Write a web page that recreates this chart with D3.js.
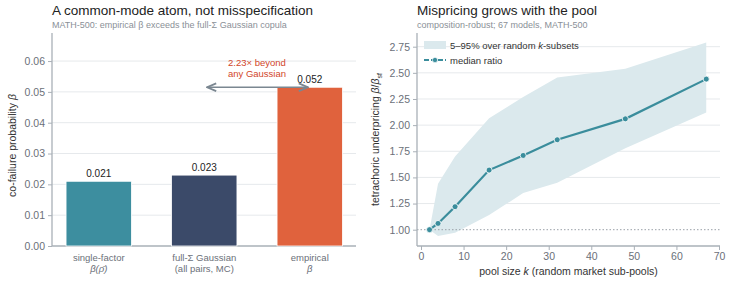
<!DOCTYPE html>
<html><head><meta charset="utf-8">
<script src="https://cdn.jsdelivr.net/npm/d3@7"></script>
<style>
body{margin:0;background:#fff;}
svg{display:block;font-family:"Liberation Sans",Arial,sans-serif;}
</style></head>
<body>
<svg id="c" width="730" height="285"></svg>
<script>
// ---- data ----
const barCats = ["single", "full", "emp"];
const barLabels = [["single-factor","β(ρ̄)"],["full-Σ Gaussian","(all pairs, MC)"],["empirical","β"]];
const barValues = [0.021, 0.023, 0.0515];
const barValueLabels = ["0.021","0.023","0.052"];
const barColors = ["#3d8e9f","#3b4a69","#e0623d"];
const leftTicks = [0,0.01,0.02,0.03,0.04,0.05,0.06];

const poolK = [2,4,8,16,24,32,48,67];
const medianRatio = [1.00,1.06,1.22,1.57,1.71,1.86,2.06,2.44];
const bandLow = [1.00,0.94,0.97,1.14,1.35,1.45,1.78,2.12];
const bandHigh = [1.00,1.44,1.70,2.065,2.27,2.455,2.54,2.79];
const rightYTicks = [1.00,1.25,1.50,1.75,2.00,2.25,2.50,2.75];
const rightXTicks = [0,10,20,30,40,50,60,70];

const svg = d3.select("#c");
const gridC = "#e6e9ec", axisC = "#a9b0b7", tickTxt = "#6b7079";

// ---------- LEFT PANEL ----------
const L = {x0:52, x1:356, y0:33, y1:246};
const yL = d3.scaleLinear().domain([0,0.0691]).range([L.y1,L.y0]);
const xL = d3.scaleBand().domain(barCats).range([46,362.5]).paddingInner(0.38).paddingOuter(0.19);
const gL = svg.append("g");
gL.selectAll("line.grid").data(leftTicks.slice(1)).join("line")
  .attr("x1",L.x0).attr("x2",L.x1).attr("y1",d=>yL(d)).attr("y2",d=>yL(d))
  .attr("stroke",gridC).attr("stroke-width",1);
const axYL = gL.append("g").attr("transform",`translate(${L.x0},0)`)
  .call(d3.axisLeft(yL).tickValues(leftTicks).tickFormat(d3.format(".2f")).tickSize(4).tickPadding(3));
axYL.select(".domain").attr("d",`M0,${L.y0}V${L.y1}`);
const axXL = gL.append("g").attr("transform",`translate(0,${L.y1})`)
  .call(d3.axisBottom(xL).tickSize(0).tickFormat(""));
axXL.select(".domain").attr("d",`M${L.x0},0H${L.x1}`);
[axYL,axXL].forEach(a=>{a.select(".domain").attr("stroke",axisC).attr("stroke-width",1.3);
  a.selectAll(".tick line").attr("stroke",axisC);
  a.selectAll("text").attr("fill",tickTxt).attr("font-size",10.5);});
gL.selectAll("rect.bar").data(barValues).join("rect")
  .attr("x",(d,i)=>xL(barCats[i])).attr("width",xL.bandwidth())
  .attr("y",d=>yL(d)).attr("height",d=>yL(0)-yL(d))
  .attr("fill",(d,i)=>barColors[i]).attr("stroke","#fff").attr("stroke-width",0.8);
gL.selectAll("text.val").data(barValues).join("text")
  .attr("x",(d,i)=>xL(barCats[i])+xL.bandwidth()/2).attr("y",d=>yL(d)-4)
  .attr("text-anchor","middle").attr("font-size",10).attr("fill","#222")
  .text((d,i)=>barValueLabels[i]);
barLabels.forEach((lines,i)=>{
  const t = gL.append("text").attr("text-anchor","middle").attr("fill",tickTxt).attr("font-size",9.5)
    .attr("x",xL(barCats[i])+xL.bandwidth()/2);
  lines.forEach((s,j)=>t.append("tspan").attr("x",xL(barCats[i])+xL.bandwidth()/2)
    .attr("y",L.y1+15+j*10.8).attr("font-style",j===1 && i!==1?"italic":null).text(s));
});
// arrow
const defs = svg.append("defs");
defs.append("marker").attr("id","ah").attr("viewBox","0 0 10 10").attr("refX",9).attr("refY",5)
  .attr("markerWidth",7).attr("markerHeight",7).attr("orient","auto-start-reverse")
  .append("path").attr("d","M1,1.5L9,5L1,8.5").attr("fill","none").attr("stroke","#7b8791").attr("stroke-width",1.6);
const arrowY = yL(barValues[2]);
gL.append("line").attr("x1",xL("full")+xL.bandwidth()/2+3).attr("x2",xL("emp")+xL.bandwidth()/2-2)
  .attr("y1",arrowY).attr("y2",arrowY).attr("stroke","#7b8791").attr("stroke-width",1.6)
  .attr("marker-start","url(#ah)").attr("marker-end","url(#ah)");
const ann = gL.append("text").attr("text-anchor","middle").attr("fill","#d2462a").attr("font-size",9.5);
ann.append("tspan").attr("x",257).attr("y",66).text("2.23× beyond");
ann.append("tspan").attr("x",257).attr("y",77).text("any Gaussian");
gL.append("text").attr("transform",`translate(16,${(L.y0+L.y1)/2+6}) rotate(-90)`)
  .attr("text-anchor","middle").attr("font-size",10.5).attr("fill","#333")
  .html('co-failure probability <tspan font-style="italic">β</tspan>');
gL.append("text").attr("x",L.x0).attr("y",15).attr("font-size",13.5).attr("fill","#222")
  .text("A common-mode atom, not misspecification");
gL.append("text").attr("x",L.x0).attr("y",28).attr("font-size",9).attr("fill","#8a9097")
  .text("MATH-500: empirical β exceeds the full-Σ Gaussian copula");

// ---------- RIGHT PANEL ----------
const R = {x0:417, x1:720, y0:33, y1:246};
const xR = d3.scaleLinear().domain([0,70]).range([421,719]);
const yR = d3.scaleLinear().domain([1,2.75]).range([229.7,46.7]);
const gR = svg.append("g");
gR.selectAll("line.grid").data(rightYTicks.slice(1)).join("line")
  .attr("x1",R.x0).attr("x2",R.x1).attr("y1",d=>yR(d)).attr("y2",d=>yR(d))
  .attr("stroke",gridC).attr("stroke-width",1);
const band = poolK.map((k,i)=>({k,lo:bandLow[i],hi:bandHigh[i]}));
gR.append("path").datum(band)
  .attr("d",d3.area().x(d=>xR(d.k)).y0(d=>yR(d.lo)).y1(d=>yR(d.hi)))
  .attr("fill","#dbe9ed");
gR.append("line").attr("x1",R.x0).attr("x2",R.x1).attr("y1",yR(1)).attr("y2",yR(1))
  .attr("stroke","#9aa1a8").attr("stroke-width",1).attr("stroke-dasharray","1.5,2");
const axYR = gR.append("g").attr("transform",`translate(${R.x0},0)`)
  .call(d3.axisLeft(yR).tickValues(rightYTicks).tickFormat(d3.format(".2f")).tickSize(4).tickPadding(3));
axYR.select(".domain").attr("d",`M0,${R.y0}V${R.y1}`);
const axXR = gR.append("g").attr("transform",`translate(0,${R.y1})`)
  .call(d3.axisBottom(xR).tickValues(rightXTicks).tickSize(4).tickPadding(3));
axXR.select(".domain").attr("d",`M${R.x0},0H${R.x1}`);
[axYR,axXR].forEach(a=>{a.select(".domain").attr("stroke",axisC).attr("stroke-width",1.3);
  a.selectAll(".tick line").attr("stroke",axisC);
  a.selectAll("text").attr("fill",tickTxt).attr("font-size",10.5);});
const med = poolK.map((k,i)=>({k,v:medianRatio[i]}));
gR.append("path").datum(med).attr("d",d3.line().x(d=>xR(d.k)).y(d=>yR(d.v)))
  .attr("fill","none").attr("stroke","#3a8d9c").attr("stroke-width",2.2);
gR.selectAll("circle.pt").data(med).join("circle")
  .attr("cx",d=>xR(d.k)).attr("cy",d=>yR(d.v)).attr("r",3)
  .attr("fill","#3a8d9c").attr("stroke","#fff").attr("stroke-width",0.8);
// legend
gR.append("rect").attr("x",424).attr("y",41).attr("width",22).attr("height",8).attr("fill","#dbe9ed");
gR.append("text").attr("x",450).attr("y",49).attr("font-size",9.5).attr("fill","#333")
  .html('5–95% over random <tspan font-style="italic">k</tspan>-subsets');
gR.append("line").attr("x1",424).attr("x2",446).attr("y1",60).attr("y2",60)
  .attr("stroke","#3a8d9c").attr("stroke-width",2).attr("stroke-dasharray","5,2");
gR.append("circle").attr("cx",435).attr("cy",60).attr("r",2.6).attr("fill","#3a8d9c").attr("stroke","#fff").attr("stroke-width",0.6);
gR.append("text").attr("x",450).attr("y",63.5).attr("font-size",9.5).attr("fill","#333").text("median ratio");
gR.append("text").attr("transform",`translate(379,${(R.y0+R.y1)/2}) rotate(-90)`)
  .attr("text-anchor","middle").attr("font-size",10.5).attr("fill","#333")
  .html('tetrachoric underpricing <tspan font-style="italic">β</tspan>/<tspan font-style="italic">β</tspan><tspan font-size="7" dy="3">sf</tspan>');
gR.append("text").attr("x",(R.x0+R.x1)/2).attr("y",275).attr("text-anchor","middle")
  .attr("font-size",10.5).attr("fill","#333")
  .html('pool size <tspan font-style="italic">k</tspan> (random market sub-pools)');
gR.append("text").attr("x",R.x0).attr("y",15).attr("font-size",13.5).attr("fill","#222")
  .text("Mispricing grows with the pool");
gR.append("text").attr("x",R.x0).attr("y",28).attr("font-size",9).attr("fill","#8a9097")
  .text("composition-robust; 67 models, MATH-500");
</script>
</body></html>
